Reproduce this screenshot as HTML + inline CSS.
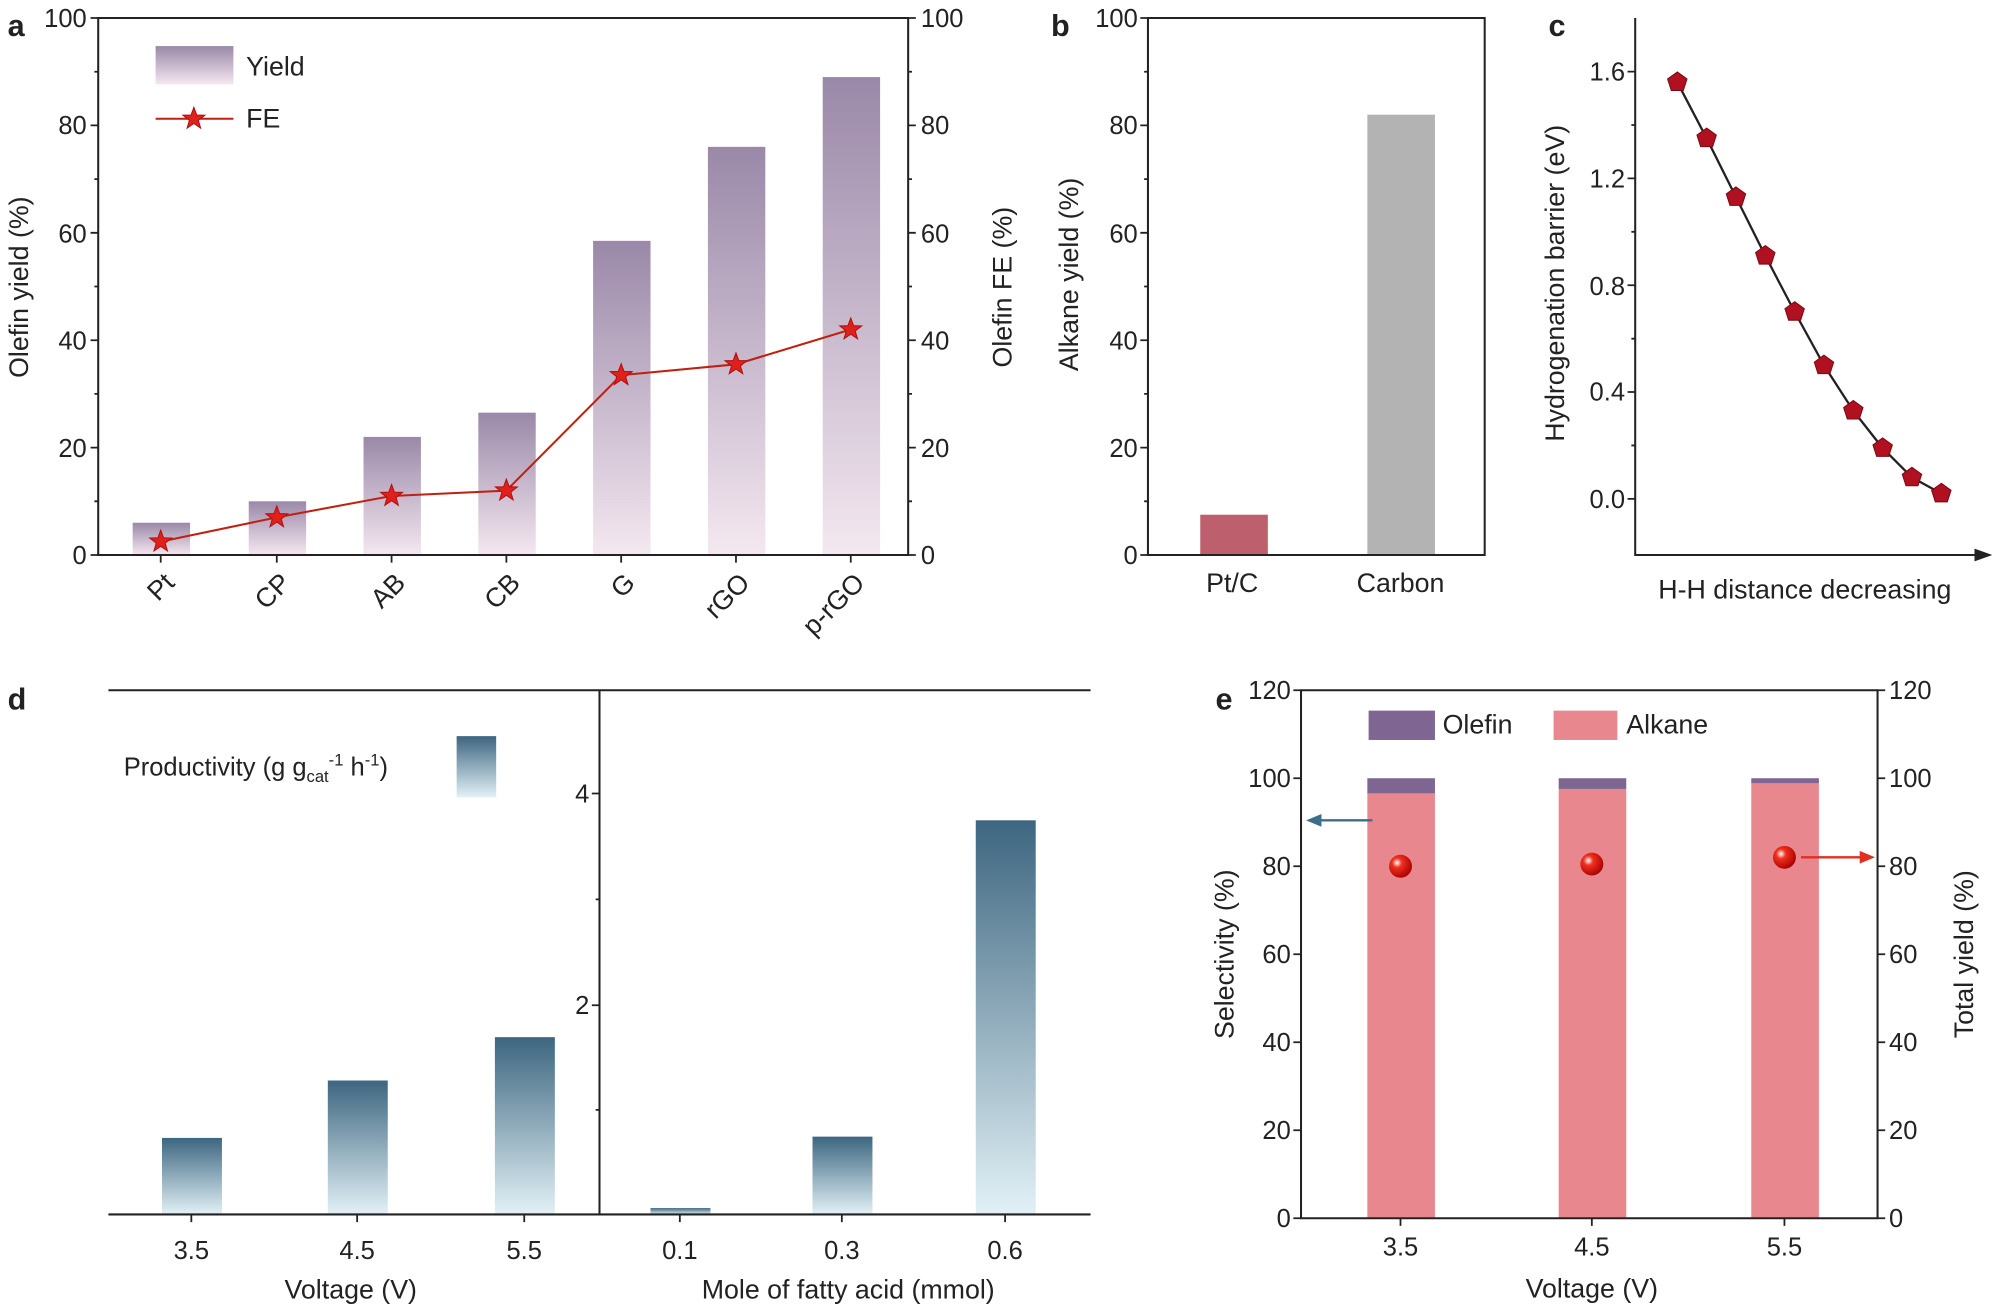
<!DOCTYPE html>
<html><head><meta charset="utf-8"><style>html,body{margin:0;padding:0;background:#fff}svg{display:block}text{font-family:"Liberation Sans",sans-serif;fill:#222}</style></head><body>
<svg width="2000" height="1309" viewBox="0 0 1568 1026" xmlns="http://www.w3.org/2000/svg">
<defs>
<linearGradient id="pg" x1="0" y1="0" x2="0" y2="1"><stop offset="0" stop-color="#9a88a8"/><stop offset="1" stop-color="#f4e8f0"/></linearGradient>
<linearGradient id="bg" x1="0" y1="0" x2="0" y2="1"><stop offset="0" stop-color="#3d6680"/><stop offset="1" stop-color="#e2f1f6"/></linearGradient>
<radialGradient id="rb" cx="0.35" cy="0.35" r="0.7"><stop offset="0" stop-color="#fff"/><stop offset="0.3" stop-color="#f03020"/><stop offset="1" stop-color="#a00"/></radialGradient>
<symbol id="star" viewBox="-10 -10 20 20"><polygon points="0,-9 2.2,-3 8.6,-2.8 3.5,1.2 5.3,7.3 0,3.7 -5.3,7.3 -3.5,1.2 -8.6,-2.8 -2.2,-3" fill="#e0201a" stroke="#b01010" stroke-width="0.8"/></symbol>
<symbol id="pent" viewBox="-10 -10 20 20"><polygon points="0,-8 7.6,-2.5 4.7,6.5 -4.7,6.5 -7.6,-2.5" fill="#b01020" stroke="#7a0a14" stroke-width="0.8"/></symbol>
</defs>
<g font-size="20">
<!-- Panel a -->
<text x="6" y="28" font-size="24" font-weight="bold">a</text>
<g fill="url(#pg)">
<rect x="104" y="409.7" width="45" height="25.3"/><rect x="195" y="392.9" width="45" height="42.1"/><rect x="285" y="342.4" width="45" height="92.6"/><rect x="375" y="323.4" width="45" height="111.6"/><rect x="465" y="188.7" width="45" height="246.3"/><rect x="555" y="115" width="45" height="320"/><rect x="645" y="60.3" width="45" height="374.7"/>
</g>
<polyline points="126,424.5 217,405.5 307,388.7 397,384.5 487,294 577,285.5 667,258.2" fill="none" stroke="#c02010" stroke-width="1.6"/>
<g><use href="#star" x="116" y="414.5" width="20" height="20"/><use href="#star" x="207" y="395.5" width="20" height="20"/><use href="#star" x="297" y="378.7" width="20" height="20"/><use href="#star" x="387" y="374.5" width="20" height="20"/><use href="#star" x="477" y="284" width="20" height="20"/><use href="#star" x="567" y="275.5" width="20" height="20"/><use href="#star" x="657" y="248.2" width="20" height="20"/></g>
<path d="M77,14 H712 V435 H77 Z" fill="none" stroke="#222" stroke-width="1.6"/>
<g stroke="#222" stroke-width="1.4">
<path d="M77,435h-6M77,350.8h-6M77,266.6h-6M77,182.4h-6M77,98.2h-6M77,14h-6M77,392.9h-3M77,308.7h-3M77,224.5h-3M77,140.3h-3M77,56.1h-3"/>
<path d="M712,435h6M712,350.8h6M712,266.6h6M712,182.4h6M712,98.2h6M712,14h6M712,392.9h3M712,308.7h3M712,224.5h3M712,140.3h3M712,56.1h3"/>
<path d="M126,435v6M217,435v6M307,435v6M397,435v6M487,435v6M577,435v6M667,435v6"/>
</g>
<g text-anchor="end"><text x="68" y="442">0</text><text x="68" y="358">20</text><text x="68" y="274">40</text><text x="68" y="190">60</text><text x="68" y="105">80</text><text x="68" y="21">100</text></g>
<g><text x="722" y="442">0</text><text x="722" y="358">20</text><text x="722" y="274">40</text><text x="722" y="190">60</text><text x="722" y="105">80</text><text x="722" y="21">100</text></g>
<g text-anchor="end" font-size="21">
<text transform="translate(138,458) rotate(-45)">Pt</text><text transform="translate(229,458) rotate(-45)">CP</text><text transform="translate(319,458) rotate(-45)">AB</text><text transform="translate(409,458) rotate(-45)">CB</text><text transform="translate(499,458) rotate(-45)">G</text><text transform="translate(589,458) rotate(-45)">rGO</text><text transform="translate(679,458) rotate(-45)">p-rGO</text>
</g>
<text transform="translate(22,225) rotate(-90)" text-anchor="middle" font-size="21">Olefin yield (%)</text>
<text transform="translate(793,225) rotate(-90)" text-anchor="middle" font-size="21">Olefin FE (%)</text>
<rect x="122" y="36" width="61" height="30" fill="url(#pg)"/><text x="193" y="59" font-size="21">Yield</text>
<line x1="122" y1="93" x2="183" y2="93" stroke="#c02010" stroke-width="1.6"/><use href="#star" x="142" y="83" width="20" height="20"/><text x="193" y="100" font-size="21">FE</text>

<!-- Panel b -->
<text x="824" y="28" font-size="24" font-weight="bold">b</text>
<rect x="941" y="403.4" width="53" height="31.6" fill="#be5f6d"/>
<rect x="1072" y="89.8" width="53" height="345.2" fill="#b3b3b3"/>
<path d="M900,14 H1164 V435 H900 Z" fill="none" stroke="#222" stroke-width="1.6"/>
<path stroke="#222" stroke-width="1.4" d="M900,435h-6M900,350.8h-6M900,266.6h-6M900,182.4h-6M900,98.2h-6M900,14h-6M900,392.9h-3M900,308.7h-3M900,224.5h-3M900,140.3h-3M900,56.1h-3"/>
<g text-anchor="end"><text x="892" y="442">0</text><text x="892" y="358">20</text><text x="892" y="274">40</text><text x="892" y="190">60</text><text x="892" y="105">80</text><text x="892" y="21">100</text></g>
<text x="966" y="464" text-anchor="middle" font-size="21">Pt/C</text><text x="1098" y="464" text-anchor="middle" font-size="21">Carbon</text>
<text transform="translate(845,215) rotate(-90)" text-anchor="middle" font-size="21">Alkane yield (%)</text>

<!-- Panel c -->
<text x="1214" y="28" font-size="24" font-weight="bold">c</text>
<path d="M1282,14 V435 H1550" fill="none" stroke="#222" stroke-width="1.6"/>
<polygon points="1562,435 1548,430 1548,440" fill="#222"/>
<path stroke="#222" stroke-width="1.4" d="M1282,391h-6M1282,307.2h-6M1282,223.5h-6M1282,139.7h-6M1282,56h-6M1282,349.1h-3M1282,265.4h-3M1282,181.6h-3M1282,97.9h-3"/>
<g text-anchor="end"><text x="1274" y="398">0.0</text><text x="1274" y="314">0.4</text><text x="1274" y="231">0.8</text><text x="1274" y="147">1.2</text><text x="1274" y="63">1.6</text></g>
<polyline points="1315,64.3 1338,108.3 1361,154.4 1384,200.4 1407,244.4 1430,286.3 1453,321.9 1476,351.2 1499,374.2 1522,386.8" fill="none" stroke="#222" stroke-width="1.8" stroke-linejoin="round"/>
<g><use href="#pent" x="1305" y="54.3" width="20" height="20"/><use href="#pent" x="1328" y="98.3" width="20" height="20"/><use href="#pent" x="1351" y="144.4" width="20" height="20"/><use href="#pent" x="1374" y="190.4" width="20" height="20"/><use href="#pent" x="1397" y="234.4" width="20" height="20"/><use href="#pent" x="1420" y="276.3" width="20" height="20"/><use href="#pent" x="1443" y="311.9" width="20" height="20"/><use href="#pent" x="1466" y="341.2" width="20" height="20"/><use href="#pent" x="1489" y="364.2" width="20" height="20"/><use href="#pent" x="1512" y="376.8" width="20" height="20"/></g>
<text transform="translate(1226,222) rotate(-90)" text-anchor="middle" font-size="21">Hydrogenation barrier (eV)</text>
<text x="1415" y="469" text-anchor="middle" font-size="21">H-H distance decreasing</text>

<!-- Panel d -->
<text x="6" y="556" font-size="24" font-weight="bold">d</text>
<g fill="url(#bg)">
<rect x="127" y="892" width="47" height="60"/><rect x="257" y="847" width="47" height="105"/><rect x="388" y="813" width="47" height="139"/>
<rect x="510" y="947" width="47" height="5"/><rect x="637" y="891" width="47" height="61"/><rect x="765" y="643" width="47" height="309"/>
</g>
<path d="M85,541 H855 M85,952 H855 M470,541 V952" fill="none" stroke="#222" stroke-width="1.6"/>
<path stroke="#222" stroke-width="1.4" d="M470,788h-6M470,622h-6M470,870h-3M470,705h-3M150,952v6M280,952v6M411,952v6M533,952v6M660,952v6M788,952v6"/>
<g text-anchor="end"><text x="462" y="795">2</text><text x="462" y="629">4</text></g>
<g text-anchor="middle"><text x="150" y="987">3.5</text><text x="280" y="987">4.5</text><text x="411" y="987">5.5</text><text x="533" y="987">0.1</text><text x="660" y="987">0.3</text><text x="788" y="987">0.6</text>
<text x="275" y="1018" font-size="21">Voltage (V)</text><text x="665" y="1018" font-size="21">Mole of fatty acid (mmol)</text></g>
<text x="97" y="608" font-size="20">Productivity (g g<tspan font-size="13" dy="5">cat</tspan><tspan font-size="13" dy="-13">-1</tspan><tspan dy="8"> h</tspan><tspan font-size="13" dy="-8">-1</tspan><tspan dy="8">)</tspan></text>
<rect x="358" y="577" width="31" height="48" fill="url(#bg)"/>

<!-- Panel e -->
<text x="953" y="556" font-size="24" font-weight="bold">e</text>
<g>
<rect x="1072" y="621.9" width="53" height="333.1" fill="#e8888e"/><rect x="1072" y="610" width="53" height="11.9" fill="#7f6592"/>
<rect x="1222" y="618.4" width="53" height="336.6" fill="#e8888e"/><rect x="1222" y="610" width="53" height="8.4" fill="#7f6592"/>
<rect x="1373" y="614" width="53" height="341" fill="#e8888e"/><rect x="1373" y="610" width="53" height="4" fill="#7f6592"/>
</g>
<circle cx="1098" cy="679" r="9" fill="url(#rb)"/><circle cx="1248" cy="677.3" r="9" fill="url(#rb)"/><circle cx="1399" cy="672" r="9" fill="url(#rb)"/>
<line x1="1076" y1="643" x2="1034" y2="643" stroke="#3a6f8a" stroke-width="1.8"/><polygon points="1024,643 1036,638 1036,648" fill="#3a6f8a"/>
<line x1="1412" y1="672" x2="1460" y2="672" stroke="#e03020" stroke-width="1.8"/><polygon points="1470,672 1458,667 1458,677" fill="#e03020"/>
<path d="M1020,541 H1472 V955 H1020 Z" fill="none" stroke="#222" stroke-width="1.6"/>
<path stroke="#222" stroke-width="1.4" d="M1020,955h-6M1020,886h-6M1020,817h-6M1020,748h-6M1020,679h-6M1020,610h-6M1020,541h-6M1472,955h6M1472,886h6M1472,817h6M1472,748h6M1472,679h6M1472,610h6M1472,541h6M1098,955v6M1248,955v6M1399,955v6"/>
<g text-anchor="end"><text x="1012" y="962">0</text><text x="1012" y="893">20</text><text x="1012" y="824">40</text><text x="1012" y="755">60</text><text x="1012" y="686">80</text><text x="1012" y="617">100</text><text x="1012" y="548">120</text></g>
<g><text x="1481" y="962">0</text><text x="1481" y="893">20</text><text x="1481" y="824">40</text><text x="1481" y="755">60</text><text x="1481" y="686">80</text><text x="1481" y="617">100</text><text x="1481" y="548">120</text></g>
<g text-anchor="middle"><text x="1098" y="984">3.5</text><text x="1248" y="984">4.5</text><text x="1399" y="984">5.5</text><text x="1248" y="1017" font-size="21">Voltage (V)</text></g>
<text transform="translate(967,748) rotate(-90)" text-anchor="middle" font-size="21">Selectivity (%)</text>
<text transform="translate(1547,748) rotate(-90)" text-anchor="middle" font-size="21">Total yield (%)</text>
<rect x="1073" y="557" width="52" height="23" fill="#7f6592"/><text x="1131" y="575" font-size="21">Olefin</text>
<rect x="1218" y="557" width="50" height="23" fill="#e8888e"/><text x="1275" y="575" font-size="21">Alkane</text>
</g>
</svg>
</body></html>
